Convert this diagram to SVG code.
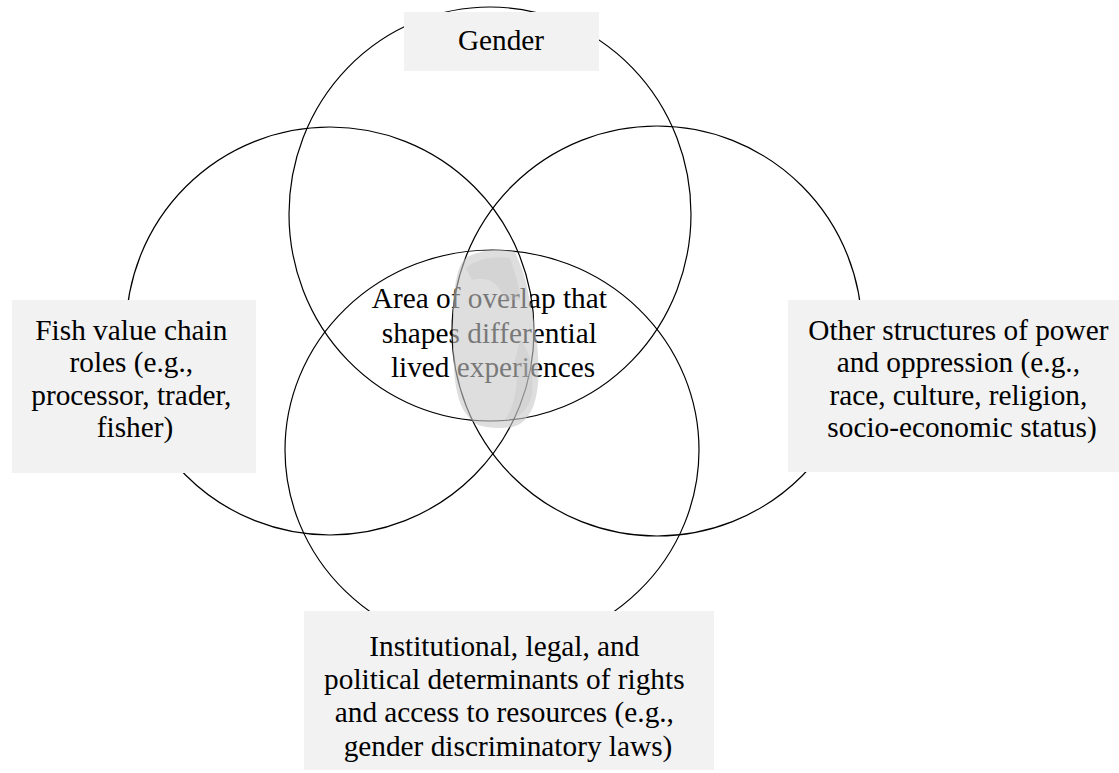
<svg xmlns="http://www.w3.org/2000/svg" width="1119" height="773" viewBox="0 0 1119 773">
<style>
.ring{fill:none;stroke:#000;stroke-width:1.2}
.box{fill:#f2f2f2;stroke:none}
.lbl{font-family:"Liberation Serif","Times New Roman",serif;font-size:29.3px;fill:#000;text-anchor:middle}
</style>
<rect width="1119" height="773" fill="#fff"/>
<g id="connectors"></g>
<g id="node-gender">
  <ellipse class="ring" cx="490" cy="214" rx="201" ry="207"/>
  <rect class="box" x="404" y="12" width="195" height="59"/>
  <text class="lbl" x="501" y="50">Gender</text>
</g>
<g id="node-fish">
  <circle class="ring" cx="330" cy="331" r="204"/>
  <rect class="box" x="12" y="300" width="244" height="173"/>
  <text class="lbl" x="135">
    <tspan x="135" y="340">Fish value chain</tspan>
    <tspan x="135" y="372">roles (e.g.,</tspan>
    <tspan x="135" y="405">processor, trader,</tspan>
    <tspan x="135" y="437">fisher)</tspan>
  </text>
</g>
<g id="node-other">
  <circle class="ring" cx="657" cy="331" r="205"/>
  <rect class="box" x="788" y="300" width="331" height="172"/>
  <text class="lbl" x="962">
    <tspan x="962" y="340">Other structures of power</tspan>
    <tspan x="962" y="372">and oppression (e.g.,</tspan>
    <tspan x="962" y="405">race, culture, religion,</tspan>
    <tspan x="962" y="437">socio-economic status)</tspan>
  </text>
</g>
<g id="node-institutional">
  <ellipse class="ring" cx="492" cy="450" rx="207" ry="200"/>
  <rect class="box" x="304" y="611" width="410" height="159"/>
  <text class="lbl" x="508">
    <tspan x="508" y="656">Institutional, legal, and</tspan>
    <tspan x="508" y="689">political determinants of rights</tspan>
    <tspan x="508" y="722">and access to resources (e.g.,</tspan>
    <tspan x="508" y="756">gender discriminatory laws)</tspan>
  </text>
</g>
<g id="node-overlap">
  <text class="lbl" x="493">
    <tspan x="493" y="308">Area of overlap that</tspan>
    <tspan x="493" y="343">shapes differential</tspan>
    <tspan x="493" y="377">lived experiences</tspan>
  </text>
  <g id="overlap-blob">
    <path d="M467,257 C480,250 500,248 515,252 C522,268 526,280 528,292 C533,315 537,335 538,355 C539,372 539,392 533,407 C528,418 522,425 512,427 C500,429 487,428 478,425 C470,420 464,412 461,405 C457,395 455,383 454,370 C453,350 452,330 453,315 C453,298 455,283 458,272 C460,265 463,260 467,257 Z" fill="#c8c8c8" fill-opacity="0.6"/>
    <path d="M466,268 C478,258 496,256 510,258 C516,275 520,290 520,300 L505,300 C500,285 490,275 472,280 Z" fill="#bdbdbd" fill-opacity="0.3"/>
    <path d="M520,340 C530,350 534,370 532,395 C528,410 520,418 505,420 C515,405 520,380 515,360 Z" fill="#bdbdbd" fill-opacity="0.3"/>
  </g>
</g>
</svg>
